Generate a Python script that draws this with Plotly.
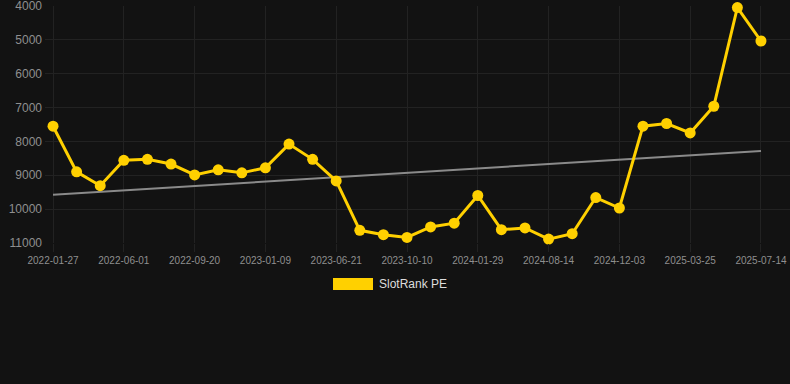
import numpy as np
import plotly.graph_objects as go

dates = ["2022-01-27", "2022-03-10", "2022-04-21", "2022-06-01", "2022-07-08", "2022-08-14",
         "2022-09-20", "2022-10-27", "2022-12-03", "2023-01-09", "2023-03-04", "2023-04-27",
         "2023-06-21", "2023-07-28", "2023-09-03", "2023-10-10", "2023-11-16", "2023-12-23",
         "2024-01-29", "2024-04-04", "2024-06-09", "2024-08-14", "2024-09-20", "2024-10-27",
         "2024-12-03", "2025-01-08", "2025-02-16", "2025-03-25", "2025-04-30", "2025-06-07",
         "2025-07-14"]
rank = [7550, 8900, 9310, 8560, 8530, 8670, 8990, 8840, 8930, 8780, 8080, 8530, 9170,
        10630, 10760, 10840, 10530, 10420, 9600, 10610, 10560, 10890, 10730, 9660, 9970,
        7550, 7470, 7750, 6960, 4040, 5030]
tick_labels = dates[::3]
y_ticks = [4000, 5000, 6000, 7000, 8000, 9000, 10000, 11000]
series_name = "SlotRank PE"

idx = np.arange(len(rank))
slope, intercept = np.polyfit(idx, rank, 1)
trend = slope * idx + intercept

YELLOW = "#FFD000"
BG = "#121212"
GRID = "#222222"

fig = go.Figure()
fig.add_trace(go.Scatter(x=dates, y=trend, mode="lines",
                         line=dict(color="#8a8a8a", width=2), hoverinfo="skip",
                         showlegend=False))
fig.add_trace(go.Scatter(x=dates, y=rank, mode="lines+markers", name=series_name,
                         line=dict(color=YELLOW, width=3),
                         marker=dict(color=YELLOW, size=11),
                         cliponaxis=False, showlegend=False))

# custom legend
fig.add_shape(type="rect", xref="paper", yref="paper",
              x0=(333 - 45) / 745, x1=(373 - 45) / 745,
              y0=(243 - 290) / 237, y1=(243 - 278) / 237,
              fillcolor=YELLOW, line=dict(width=0))
fig.add_annotation(text=series_name, xref="paper", yref="paper",
                   x=(377 - 45) / 745, y=(243 - 284) / 237,
                   xanchor="left", yanchor="middle", showarrow=False,
                   font=dict(size=12, color="#dddddd", family="Liberation Sans, Arial"))

fig.update_layout(
    width=790, height=384,
    margin=dict(l=45, r=0, t=6, b=141),
    paper_bgcolor=BG, plot_bgcolor=BG,
    font=dict(family="Liberation Sans, Arial", color="#8f8f8f"),
    xaxis=dict(type="category", tickmode="array", tickvals=tick_labels, ticktext=tick_labels,
               range=[-0.34, 31.23], showgrid=True, gridcolor=GRID, gridwidth=1,
               tickfont=dict(size=10, color="#8f8f8f"), ticks="outside", ticklen=8,
               tickcolor=GRID, zeroline=False, showline=False,
               ticklabeloverflow="allow"),
    yaxis=dict(range=[11005, 3995], tickmode="array", tickvals=y_ticks,
               ticktext=[str(v) for v in y_ticks], showgrid=True, gridcolor=GRID,
               tickfont=dict(size=12, color="#8f8f8f"), zeroline=False, showline=False,
               ticklabelstandoff=2, ticklabeloverflow="allow"),
)

fig.write_html("out.html", config={"displayModeBar": False},
               post_script="document.body.style.margin='0';document.body.style.background='#121212';")
